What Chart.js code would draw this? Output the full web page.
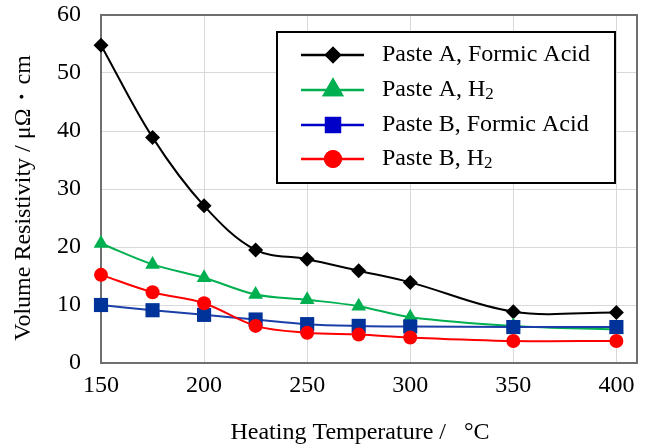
<!DOCTYPE html>
<html>
<head>
<meta charset="utf-8">
<script src="https://cdn.jsdelivr.net/npm/chart.js@4.4.1/dist/chart.umd.min.js"></script>
<style>
html,body{margin:0;padding:0;background:#fff;}
#wrap{width:647px;height:448px;position:relative;}
</style>
</head>
<body>
<div id="wrap"><canvas id="c" width="647" height="448"></canvas></div>
<script>
const temperatures = [150, 175, 200, 225, 250, 275, 300, 350, 400];
const pasteAFormic = [54.8, 38.9, 27.1, 19.5, 17.9, 15.9, 13.9, 8.85, 8.7];
const pasteAH2     = [20.6, 17.0, 14.7, 11.8, 10.9, 9.8, 7.9, 6.4, 5.8];
const pasteBFormic = [10.0, 9.1, 8.3, 7.5, 6.7, 6.4, 6.3, 6.2, 6.2];
const pasteBH2     = [15.2, 12.2, 10.3, 6.4, 5.2, 4.9, 4.4, 3.8, 3.8];
const seriesNames = ['Paste A, Formic Acid', 'Paste A, H2', 'Paste B, Formic Acid', 'Paste B, H2'];
const xTitle = 'Heating Temperature /   \u00B0C   ';
const yTitle = 'Volume Resistivity / \u03BC\u03A9\u30FBcm   ';

const FONT = "'Liberation Serif','Times New Roman',serif";

function pts(arr){ return temperatures.map((t,i)=>({x:t,y:arr[i]})); }

const styles = [
  {color:'#000000', line:'#000000', legend:'#000000', style:'rectRot', r:7.5, lr:8.5},
  {color:'#00B050', line:'#00B050', legend:'#00B050', style:'triangle', r:8.5, lr:12.5},
  {color:'#003399', line:'#1a3fa8', legend:'#0000C8', style:'rect', r:10, lr:11.5},
  {color:'#FF0000', line:'#FF0000', legend:'#FF0000', style:'circle', r:7, lr:9}
];
const dataArrays = [pasteAFormic, pasteAH2, pasteBFormic, pasteBH2];

const datasets = dataArrays.map((arr,i)=>({
  label: seriesNames[i],
  data: pts(arr),
  borderColor: styles[i].line,
  backgroundColor: styles[i].color,
  pointBackgroundColor: styles[i].color,
  pointBorderColor: styles[i].color,
  pointBorderWidth: 0,
  pointStyle: styles[i].style,
  pointRadius: styles[i].r,
  pointHoverRadius: styles[i].r,
  borderWidth: 2,
  tension: 0.35,
  clip: false,
  legendColor: styles[i].legend,
  legendRadius: styles[i].lr
})).reverse();

const frameAndLegend = {
  id: 'frameAndLegend',
  afterDatasetsDraw(chart){
    const ctx = chart.ctx;
    const bx = 277, by = 32, bw = 338, bh = 151;
    ctx.save();
    ctx.fillStyle = '#ffffff';
    ctx.fillRect(bx, by, bw, bh);
    ctx.strokeStyle = '#000000';
    ctx.lineWidth = 2;
    ctx.strokeRect(bx, by, bw, bh);
    const rowY = [55, 90, 125, 159];
    const order = chart.data.datasets.slice().reverse();
    order.forEach((ds, i)=>{
      const y = rowY[i];
      ctx.strokeStyle = ds.legendColor;
      ctx.lineWidth = 2.5;
      ctx.beginPath(); ctx.moveTo(301, y); ctx.lineTo(364, y); ctx.stroke();
      ctx.fillStyle = ds.legendColor;
      Chart.helpers.drawPoint(ctx, {pointStyle: ds.pointStyle, radius: ds.legendRadius, borderWidth: 0}, 333, y);
      ctx.fill();
      ctx.fillStyle = '#000';
      ctx.textBaseline = 'middle';
      ctx.textAlign = 'left';
      ctx.font = '24px ' + FONT;
      const label = ds.label;
      if (label.endsWith('H2')) {
        const main = label.slice(0, -1);
        ctx.fillText(main, 382, y);
        const w = ctx.measureText(main).width;
        ctx.font = '17px ' + FONT;
        ctx.fillText('2', 382 + w, y + 5);
      } else {
        ctx.fillText(label, 382, y);
      }
    });
    ctx.restore();
  },
  beforeDatasetsDraw(chart){
    const ctx = chart.ctx;
    const a = chart.chartArea;
    ctx.save();
    ctx.strokeStyle = '#6f6f6f';
    ctx.lineWidth = 2;
    ctx.beginPath();
    ctx.moveTo(a.left, a.top); ctx.lineTo(a.right, a.top); ctx.lineTo(a.right, a.bottom);
    ctx.stroke();
    ctx.restore();
  }
};

new Chart(document.getElementById('c'), {
  type: 'line',
  data: { datasets },
  options: {
    responsive: false,
    animation: false,
    events: [],
    layout: { padding: { top: 15, right: 7, left: 0, bottom: 0 } },
    plugins: { legend: { display: false }, tooltip: { enabled: false } },
    scales: {
      x: {
        type: 'linear',
        min: 150, max: 410,
        afterFit(s){ s.height = 85; s.paddingLeft = 0; s.paddingRight = 0; s.paddingTop = 0; s.paddingBottom = 0; },
        ticks: { stepSize: 50, includeBounds: false, color: '#000', padding: 8, font: { family: FONT, size: 24 } },
        grid: { color: '#d9d9d9', lineWidth: 1, drawTicks: false },
        border: { color: '#6f6f6f', width: 2 },
        title: { display: true, text: xTitle, color: '#000', font: { family: FONT, size: 24 }, padding: { top: 0, bottom: 1 } }
      },
      y: {
        min: 0, max: 60,
        afterFit(s){ s.width = 101; s.paddingTop = 0; s.paddingBottom = 0; s.paddingLeft = 0; s.paddingRight = 0; },
        ticks: { stepSize: 10, color: '#000', padding: 20, font: { family: FONT, size: 24 } },
        grid: { color: '#d9d9d9', lineWidth: 1, drawTicks: false },
        border: { color: '#6f6f6f', width: 2 },
        title: { display: true, text: yTitle, color: '#000', font: { family: FONT, size: 24 }, padding: { top: 9, bottom: 0 } }
      }
    }
  },
  plugins: [frameAndLegend]
});
</script>
</body>
</html>
